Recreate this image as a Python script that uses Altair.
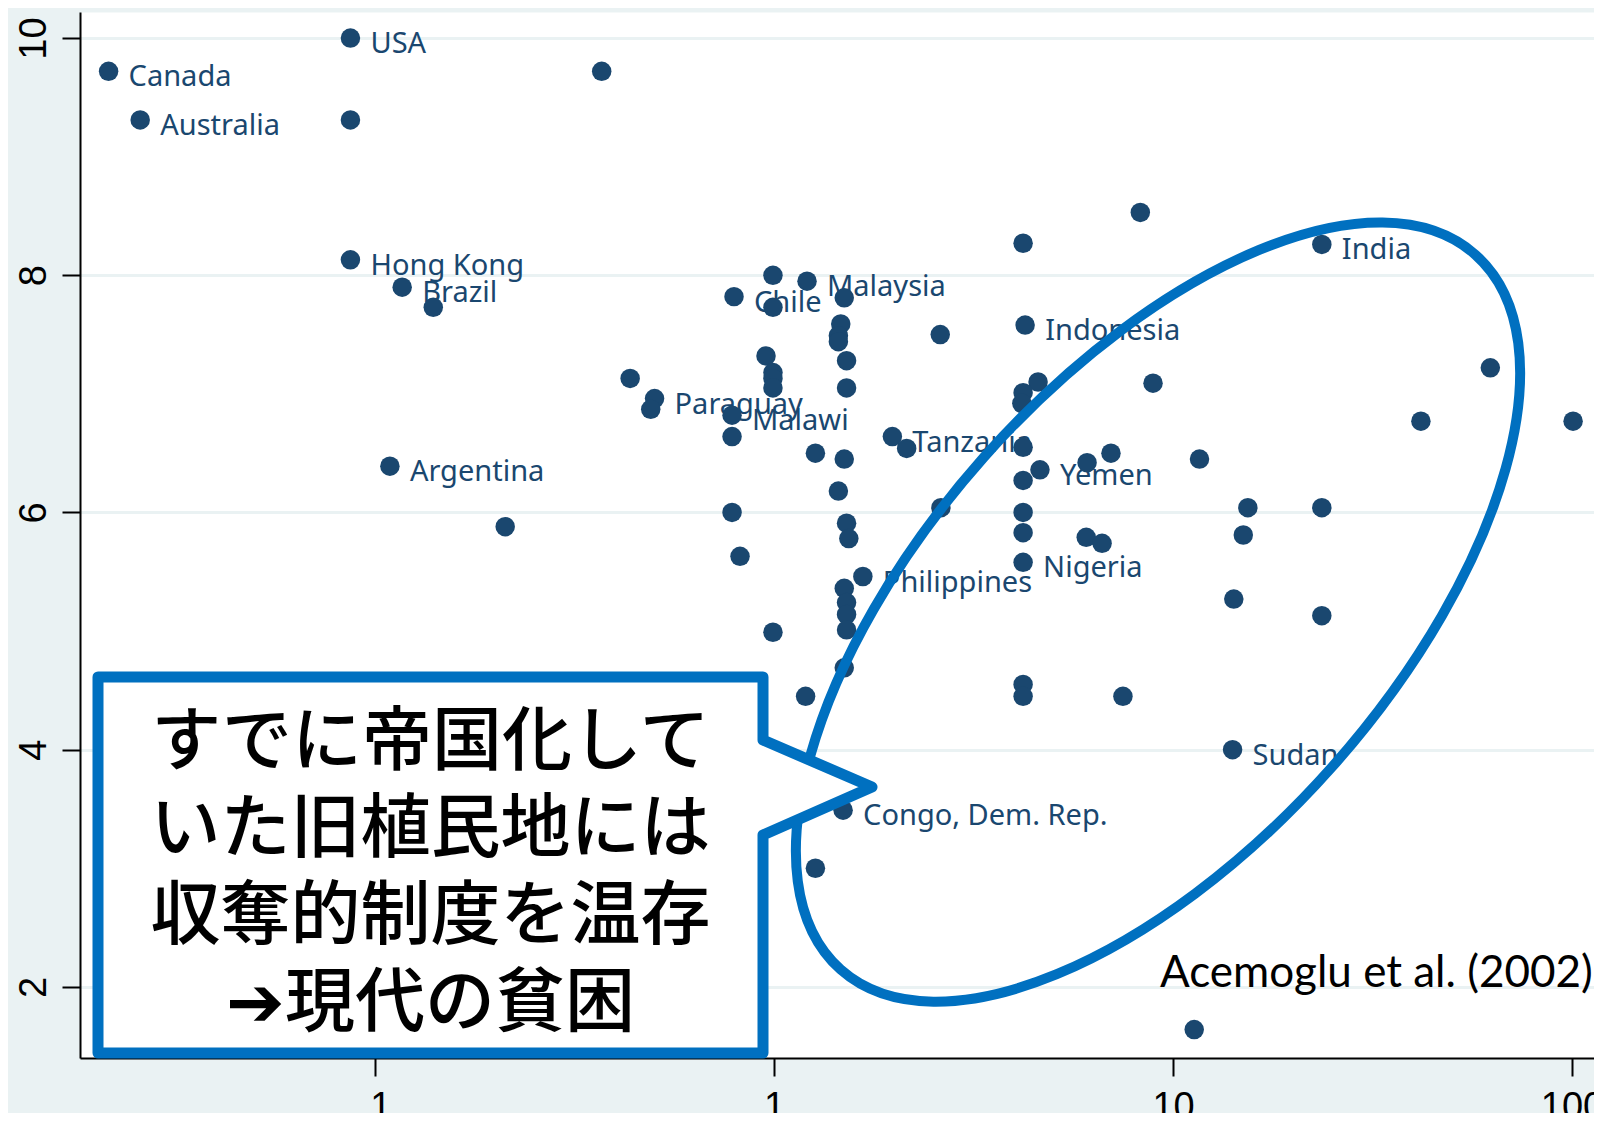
import altair as alt
import pandas as pd

# ---------------- data ----------------
x_vals = [0.0215, 0.0258, 0.0868, 0.0868, 0.370, 0.0868, 0.117, 0.140, 0.109, 0.212,
          0.436, 0.502, 0.491, 0.794, 0.994, 1.21, 0.994, 1.50, 1.47, 1.45,
          1.45, 1.52, 1.52, 0.955, 0.994, 0.994, 0.994, 0.785, 0.785, 1.27,
          1.50, 1.45, 0.785, 1.52, 1.54, 0.822, 1.67, 1.50, 1.52, 1.52,
          1.52, 0.994, 1.50, 1.20, 1.49, 1.27, 1.98, 2.15, 2.61, 2.62,
          4.21, 8.28, 23.6, 4.26, 4.59, 4.21, 4.18, 8.91, 4.21, 4.64,
          4.21, 6.09, 6.99, 4.21, 4.21, 6.06, 6.64, 4.21, 11.65, 15.4,
          15.0, 23.6, 14.2, 23.6, 62.4, 41.8, 100.6, 4.21, 4.21, 7.49,
          14.1, 11.3]
y_vals = [9.72, 9.31, 10.0, 9.31, 9.72, 8.13, 7.90, 7.73, 6.39, 5.88,
          7.13, 6.96, 6.87, 7.82, 8.00, 7.95, 7.73, 7.81, 7.59, 7.49,
          7.44, 7.28, 7.05, 7.32, 7.18, 7.13, 7.05, 6.82, 6.64, 6.50,
          6.45, 6.18, 6.00, 5.91, 5.78, 5.63, 5.46, 5.36, 5.24, 5.14,
          5.01, 4.99, 4.69, 4.45, 3.49, 3.00, 6.64, 6.54, 7.50, 6.04,
          8.27, 8.53, 8.26, 7.58, 7.10, 7.01, 6.92, 7.09, 6.55, 6.36,
          6.27, 6.42, 6.50, 6.00, 5.83, 5.79, 5.74, 5.58, 6.45, 6.04,
          5.81, 6.04, 5.27, 5.13, 7.22, 6.77, 6.77, 4.55, 4.45, 4.45,
          4.00, 1.64]
labels = ["Canada", "Australia", "USA", "", "", "Hong Kong", "Brazil", "", "Argentina", "",
          "", "Paraguay", "", "Chile", "", "Malaysia", "", "", "", "",
          "", "", "", "", "", "", "", "Malawi", "", "",
          "", "", "", "", "", "", "Philippines", "", "", "",
          "", "", "", "", "Congo, Dem. Rep.", "", "Tanzania", "", "", "",
          "", "", "India", "Indonesia", "", "", "", "", "", "Yemen",
          "", "", "", "", "", "", "", "Nigeria", "", "",
          "", "", "", "", "", "", "", "", "", "",
          "Sudan", ""]

x_ticks = [0.1, 1, 10, 100]
y_ticks = [2, 4, 6, 8, 10]

callout_lines = ["すでに帝国化して", "いた旧植民地には", "収奪的制度を温存", "➔現代の貧困"]
citation = "Acemoglu et al. (2002)"

# ellipse annotation: centre in data units, radii in pixels, tilt in degrees
ellipse_center = {"x": 9.17, "y": 5.16}
ellipse_rx, ellipse_ry, ellipse_tilt = 478, 233, 311.6

# ---------------- style ----------------
NAVY = "#1a476f"
BLUE = "#0070c0"
BG = "#eaf2f3"
W, H = 1514, 1046

df = pd.DataFrame({"x": x_vals, "y": y_vals, "label": labels})
lab_df = df[df["label"] != ""]

x_scale = alt.Scale(type="log", domain=[0.01823, 113.5], nice=False, zero=False)
y_scale = alt.Scale(domain=[1.40, 10.22], nice=False, zero=False)

common_axis = dict(title=None, domainColor="black", domainWidth=2, tickColor="black",
                   tickWidth=2, tickSize=18, labelColor="black", labelFont="Liberation Sans",
                   labelFontSize=38)
x_axis = alt.Axis(values=x_ticks, grid=False, labelPadding=12, labelBaseline="top",
                  labelExpr="datum.value < 0.5 ? '.1' : format(datum.value, 'd')",
                  labelOverlap=False, **common_axis)
y_axis = alt.Axis(values=y_ticks, grid=True, gridColor=BG, gridWidth=3, labelAngle=270,
                  labelAlign="center", labelBaseline="alphabetic", labelPadding=17,
                  labelOverlap=False, **common_axis)

X = alt.X("x:Q", scale=x_scale, axis=x_axis)
Y = alt.Y("y:Q", scale=y_scale, axis=y_axis)

label_layer = alt.Chart(lab_df).mark_text(
    align="left", baseline="middle", dx=20, dy=6, fontSize=29, font="Noto Sans", color=NAVY
).encode(x=X, y=Y, text="label:N")

points = alt.Chart(df).mark_circle(size=380, color=NAVY, opacity=1).encode(x=X, y=Y)


def ellipse_path(rx, ry):
    k = 0.5523
    rx, ry = rx / 100.0, ry / 100.0
    return (f"M {rx} 0 C {rx} {k*ry} {k*rx} {ry} 0 {ry} "
            f"C {-k*rx} {ry} {-rx} {k*ry} {-rx} 0 "
            f"C {-rx} {-k*ry} {-k*rx} {-ry} 0 {-ry} "
            f"C {k*rx} {-ry} {rx} {-k*ry} {rx} 0 Z")


ell_df = pd.DataFrame({"x": [ellipse_center["x"]], "y": [ellipse_center["y"]]})
ellipse = alt.Chart(ell_df).mark_point(
    shape=ellipse_path(ellipse_rx, ellipse_ry), size=40000, filled=False, color=BLUE,
    strokeWidth=10, angle=ellipse_tilt, opacity=1
).encode(x=X, y=Y)

# callout box (pixel geometry, units of 100 px) with pointer on the right
box_hw, box_hh = 3.325, 1.88
tail_top, tail_tip_x, tail_tip_y, tail_bot = -1.25, 4.415, -0.78, -0.30
callout_path = (f"M {-box_hw} {-box_hh} L {box_hw} {-box_hh} L {box_hw} {tail_top} "
                f"L {tail_tip_x} {tail_tip_y} L {box_hw} {tail_bot} L {box_hw} {box_hh} "
                f"L {-box_hw} {box_hh} Z")
one = pd.DataFrame({"d": [0]})
callout = alt.Chart(one).mark_point(
    shape=callout_path, size=40000, filled=True, fill="white", stroke=BLUE,
    strokeWidth=11, strokeJoin="round", opacity=1
).encode(x=alt.value(350.5), y=alt.value(853))

callout_text = alt.Chart(one).mark_text(
    text=callout_lines, fontSize=70, lineHeight=87, font="Noto Sans CJK JP",
    fontWeight=500, align="center", baseline="middle", color="black"
).encode(x=alt.value(350.5), y=alt.value(732))

cite = alt.Chart(one).mark_text(
    text=citation, fontSize=44, font="Lato", align="left", baseline="alphabetic",
    color="black"
).encode(x=alt.value(1080), y=alt.value(975))

chart = alt.layer(label_layer, points, ellipse, callout, callout_text, cite).properties(
    width=W, height=H,
    autosize=alt.AutoSizeParams(type="none"),
    padding={"left": 72, "top": 4, "right": 0, "bottom": 55},
    background=BG,
).configure_view(fill="white", stroke="transparent")

chart.save("out.html", embed_options={"renderer": "svg", "actions": False})
